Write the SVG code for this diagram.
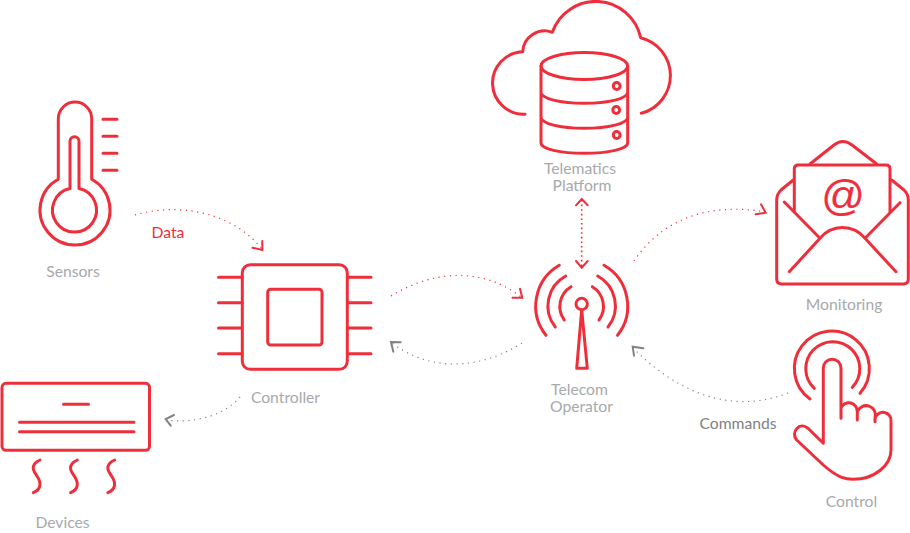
<svg xmlns="http://www.w3.org/2000/svg" width="910" height="533" viewBox="0 0 910 533">
<style>
.i{fill:none;stroke:#ee2f3b;stroke-width:3;stroke-linecap:round;stroke-linejoin:round}
.t,.l{font-family:Lato,"Open Sans",sans-serif;font-size:15.700px;text-anchor:middle}
.t{fill:#a7a9ac}
.cr,.cg{fill:none;stroke-width:1.200;stroke-dasharray:1.200 4.500}
.cr{stroke:#ee2f3b}.cg{stroke:#808285}
.hr,.hg{fill:none;stroke-width:2;stroke-linecap:round;stroke-linejoin:miter}
.hr{stroke:#ee2f3b}.hg{stroke:#808285}
</style>
<rect width="910" height="533" fill="#fff"/>
<g id="connectors">
<path class="cr" d="M135 215C175 203 230 210 261 248"/><polyline class="hr" points="262.300,241 262.300,250 252.500,247.700"/>
<path class="cr" d="M391 296C430 272 480 265 521 297"/><polyline class="hr" points="520,288.700 522.300,297.700 512.500,297.700"/>
<path class="cg" d="M522 343C480 370 430 372 392 343"/><polyline class="hg" points="400.700,342.300 391,342 393.300,351.700"/>
<path class="cr" d="M581.700 200V267" style="stroke-width:1.600;stroke-dasharray:1.600 3"/><polyline class="hr" points="576,205.300 581.700,199 587.700,205.300"/><polyline class="hr" points="576,261 581.700,267.700 587.700,261"/>
<path class="cr" d="M634 261C665 215 715 203 765 212"/><polyline class="hr" points="761,204.300 765.700,212.700 755.700,214.300"/>
<path class="cg" d="M788 393C745 410 690 405 633 348"/><polyline class="hg" points="643.300,348.300 632.700,346.700 634,355.700"/>
<path class="cg" d="M240 397C225 415 195 424 166 420"/><polyline class="hg" points="174,415 165.700,419 170.700,425.700"/>
<text class="l" x="168" y="238" fill="#ee2f3b">Data</text>
<text class="l" x="738" y="429" fill="#808285">Commands</text>
</g>
<g id="sensors">
<path class="i" d="M58.300 179.300V118.800A16.700 16.700 0 0 1 91.700 118.800V179.300A35 35 0 1 1 58.300 179.300Z"/>
<path class="i" d="M70 188.500V141.200A4.500 4.500 0 0 1 79 141.200V188.500A22 22 0 1 1 70 188.500Z"/>
<path class="i" d="M103 119.300H117M103 136.300H117M103 153.300H117M103 170.300H117"/>
<text class="t" x="73" y="277">Sensors</text>
</g>
<g id="controller">
<rect class="i" x="242.300" y="264.700" width="105" height="104.600" rx="8"/>
<rect class="i" x="267.700" y="289.300" width="54.300" height="55.700" rx="3"/>
<path class="i" d="M218.500 277.300H242M218.500 302.700H242M218.500 328H242M218.500 353.700H242M347.500 277.300H371M347.500 302.700H371M347.500 328H371M347.500 353.700H371"/>
<text class="t" x="285.500" y="403">Controller</text>
</g>
<g id="devices">
<rect class="i" x="2" y="383.300" width="147.500" height="67" rx="4"/>
<path class="i" d="M63.500 404.300H88.500M19.500 422.300H134M19.500 431.700H134"/>
<path class="i" d="M40 460C29 465 34 472 37 476C41 482 42 489 33.300 492.700"/>
<path class="i" d="M77.300 460C66.300 465 71.300 472 74.300 476C78.300 482 79.300 489 70.600 492.700"/>
<path class="i" d="M114.600 460C103.600 465 108.600 472 111.600 476C115.600 482 116.600 489 107.900 492.700"/>
<text class="t" x="62.500" y="528">Devices</text>
</g>
<g id="platform">
<path class="i" d="M525 114.300A31.300 31.300 0 0 1 522.700 51.700A22 22 0 0 1 552.300 32.300A46 46 0 0 1 640.700 37.700A39 39 0 0 1 641.300 113.300"/>
<ellipse class="i" cx="584.300" cy="66" rx="43.300" ry="13.500"/>
<path class="i" d="M541 66V143C541 149 560 153.300 584.300 153.300S627.700 149 627.700 143V66M541 92.300C541 98.500 560 103.300 584.300 103.300S627.700 98.500 627.700 92.300M541 117.300C541 123.500 560 128.300 584.300 128.300S627.700 123.500 627.700 117.300"/>
<circle class="i" cx="616.700" cy="86" r="3.400"/><circle class="i" cx="616.200" cy="110" r="3.400"/><circle class="i" cx="616.700" cy="135" r="3.400"/>
<text class="t"><tspan x="580" y="174">Telematics</tspan><tspan x="582" y="191">Platform</tspan></text>
</g>
<g id="telecom">
<circle class="i" cx="581.700" cy="304" r="5.700"/>
<path class="i" d="M581.700 310L576.700 368.300H587.300Z"/>
<path class="i" d="M559.300 265.300A47 47 0 0 0 546 335.300M565.700 276A34 34 0 0 0 555.300 327M571 286.700A23 23 0 0 0 564.300 320M604 265.300A47 47 0 0 1 617.500 335.300M597.700 276A34 34 0 0 1 608 327M592.300 286.700A23 23 0 0 1 599 320"/>
<text class="t"><tspan x="579.500" y="395">Telecom</tspan><tspan x="581.500" y="412">Operator</tspan></text>
</g>
<g id="monitoring">
<path class="i" d="M793.300 180L781 190Q776.700 194 776.700 200V279Q776.700 284 781.700 284H903.300Q908.300 284 908.300 279V200Q908.300 194 904 190L891.700 180"/>
<path class="i" d="M810 164L834 145Q843 138 852 145L876.700 164"/>
<path class="i" d="M794.300 211.700V169Q794.300 165 798.300 165H886Q890 165 890 169V211.700"/>
<path class="i" d="M784.300 202L820 238.300M900 202.700L865 238.300M789.300 271.700L820 238.300C832 224 853 224 865 238.300L896 271.700"/>
<text x="843" y="209.500" style="font-family:'Liberation Sans',sans-serif;font-size:43px;fill:#ee2f3b;stroke:#ee2f3b;stroke-width:.2;text-anchor:middle">@</text>
<text class="t" x="844" y="310">Monitoring</text>
</g>
<g id="control">
<path class="i" d="M810 399A37.500 37.500 0 1 1 860 393.300M814.300 388.300A27 27 0 1 1 852.300 387.300"/>
<path class="i" d="M841 418.300V368A8.850 8.850 0 0 0 823.300 368V443.300L808 428.300C800 421 790 432 796.700 440L823.300 465C838 478 846 479.300 853 479.300C875 479.300 891 465 891 450V422A8 8 0 0 0 875 419V421.700M875 418A9 9 0 0 0 857.300 412V420M857.300 412A8.500 8.500 0 0 0 841 408"/>
<text class="t" x="851.500" y="507">Control</text>
</g>
</svg>
